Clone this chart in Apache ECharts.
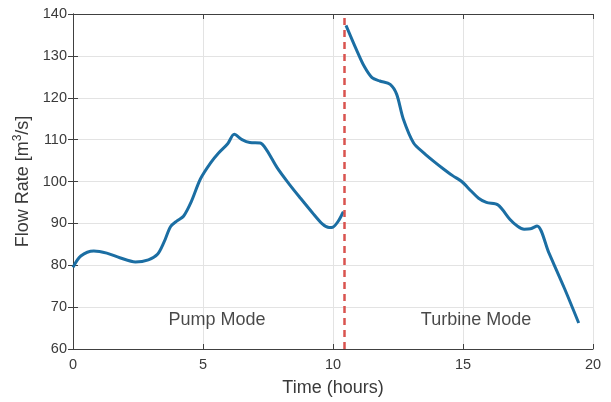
<!DOCTYPE html>
<html>
<head>
<meta charset="utf-8">
<script src="https://cdn.jsdelivr.net/npm/echarts@6/dist/echarts.min.js"></script>
<style>
  html, body { margin: 0; padding: 0; background: #fff; }
  #chart { width: 611px; height: 402px; }
</style>
</head>
<body>
<div id="chart"></div>
<script>
// pump mode, time (h) / flow (m3/s)
const pumpTime = [0, 0.3, 0.8, 1.3, 1.8, 2.4, 2.9, 3.25, 3.5, 3.75, 4.0, 4.25, 4.55, 4.9, 5.3, 5.6, 5.95, 6.2, 6.5, 6.8, 7.2, 7.45, 7.85, 8.3, 8.75, 9.2, 9.6, 9.85, 10.0, 10.2, 10.4];
const pumpFlow = [79.5, 82.2, 83.4, 82.9, 81.8, 80.8, 81.3, 82.6, 85.5, 89.2, 90.6, 91.7, 95.2, 100.6, 104.5, 106.8, 109.0, 111.3, 110.0, 109.3, 109.2, 107.5, 103.3, 99.5, 96.0, 92.6, 89.8, 89.0, 89.1, 90.5, 92.8];

// turbine mode
const turbTime = [10.5, 10.9, 11.2, 11.5, 11.8, 12.2, 12.45, 12.7, 13.1, 13.5, 13.9, 14.25, 14.6, 14.95, 15.3, 15.6, 15.9, 16.35, 16.8, 17.1, 17.35, 17.6, 17.85, 18.3, 18.9, 19.45];
const turbFlow = [137.3, 131.5, 127.5, 124.8, 124.0, 123.2, 120.8, 115.0, 109.2, 106.8, 104.7, 103.0, 101.4, 100.0, 97.8, 96.0, 95.0, 94.4, 91.0, 89.3, 88.6, 88.7, 89.4, 83.0, 74.5, 66.2];

const switchTime = 10.45;
const modeLabels = ['Pump Mode', 'Turbine Mode'];
const modeTime = [5.54, 15.5];
const modeFlow = [67, 67];

const xTicks = [0, 5, 10, 15, 20];
const yTicks = [60, 70, 80, 90, 100, 110, 120, 130, 140];

const axisColor = '#404040';
const textColor = '#3a3a3a';
const lineColor = '#1b6ea3';

const chart = echarts.init(document.getElementById('chart'), null, { renderer: 'canvas' });

const zip = (a, b) => a.map((v, i) => [v, b[i]]);

const boxAxis = {
  axisLine: { show: true, lineStyle: { color: axisColor, width: 1 } },
  axisTick: { show: true, inside: true, length: 5, lineStyle: { color: axisColor } },
  axisLabel: { show: false },
  splitLine: { show: false }
};

const option = {
  animation: false,
  backgroundColor: '#ffffff',
  grid: { left: 73, right: 18, top: 14, bottom: 50, containLabel: false },
  xAxis: [{
    type: 'value',
    min: xTicks[0],
    max: xTicks[xTicks.length - 1],
    interval: 5,
    name: 'Time (hours)',
    nameLocation: 'middle',
    nameGap: 30,
    nameTextStyle: { fontFamily: 'Liberation Sans', fontSize: 18, color: textColor },
    axisLine: { show: true, onZero: false, lineStyle: { color: axisColor, width: 1 } },
    axisTick: { show: true, inside: true, length: 5, lineStyle: { color: axisColor } },
    axisLabel: { fontFamily: 'Liberation Sans', fontSize: 14.5, color: textColor, margin: 8 },
    splitLine: { show: true, lineStyle: { color: '#e3e3e3', width: 1 } }
  }, Object.assign({
    type: 'value', position: 'top',
    min: xTicks[0], max: xTicks[xTicks.length - 1], interval: 5
  }, boxAxis)],
  yAxis: [{
    type: 'value',
    min: yTicks[0],
    max: yTicks[yTicks.length - 1],
    interval: 10,
    name: 'Flow Rate [m{sup|3}/s]',
    nameLocation: 'middle',
    nameGap: 33,
    nameTextStyle: {
      fontFamily: 'Liberation Sans', fontSize: 18, color: textColor,
      rich: { sup: { fontFamily: 'Liberation Sans', fontSize: 12, color: textColor, verticalAlign: 'top', lineHeight: 22 } }
    },
    axisLine: { show: true, onZero: false, lineStyle: { color: axisColor, width: 1 } },
    axisTick: { show: true, inside: true, length: 5, lineStyle: { color: axisColor } },
    axisLabel: { fontFamily: 'Liberation Sans', fontSize: 14.5, color: textColor, margin: 6 },
    splitLine: { show: true, lineStyle: { color: '#e3e3e3', width: 1 } }
  }, Object.assign({
    type: 'value', position: 'right',
    min: yTicks[0], max: yTicks[yTicks.length - 1], interval: 10
  }, boxAxis)],
  series: [
    {
      name: 'pump',
      type: 'line',
      data: zip(pumpTime, pumpFlow),
      smooth: 0.3,
      showSymbol: false,
      lineStyle: { color: lineColor, width: 3 },
      z: 3,
      markLine: {
        silent: true,
        symbol: ['none', 'none'],
        label: { show: false },
        lineStyle: { color: '#d9534f', width: 2.5, type: [7, 5] },
        data: [{ xAxis: switchTime }]
      }
    },
    {
      name: 'turbine',
      type: 'line',
      data: zip(turbTime, turbFlow),
      smooth: 0.3,
      showSymbol: false,
      lineStyle: { color: lineColor, width: 3 },
      z: 3
    },
    {
      name: 'labels',
      type: 'scatter',
      symbolSize: 0,
      data: modeTime.map((t, i) => ({ value: [t, modeFlow[i]], name: modeLabels[i] })),
      label: {
        show: true,
        position: 'inside',
        formatter: p => p.name,
        fontFamily: 'Liberation Sans',
        fontSize: 18,
        color: '#1a1a1a'
      }
    }
  ]
};

chart.setOption(option);
</script>
</body>
</html>
